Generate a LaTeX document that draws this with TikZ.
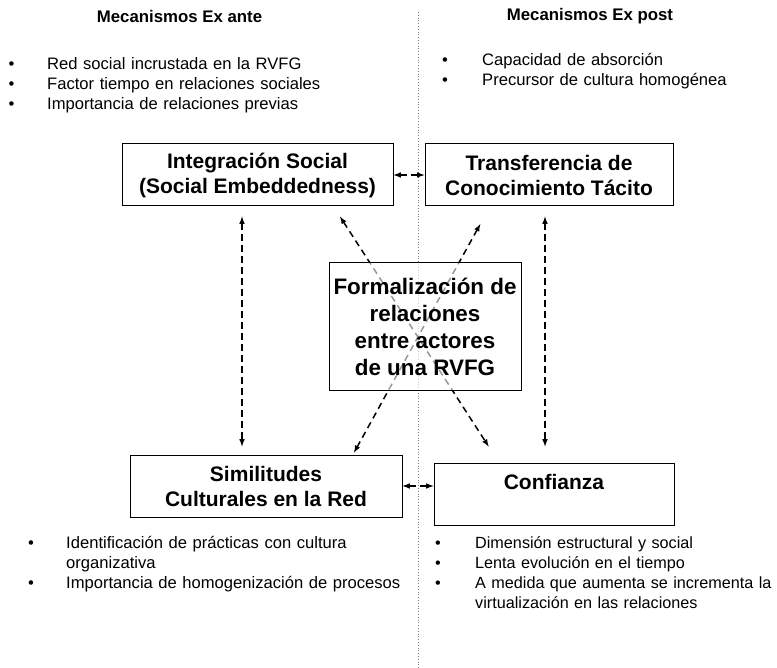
\documentclass[tikz,border=0pt]{standalone}
\usepackage{fontspec}
\setmainfont{Liberation Sans}
\usetikzlibrary{positioning}
\newcommand{\listfont}[2]{\fontsize{#1}{#2}\selectfont\lineskiplimit=-8pt\relax}

\begin{document}
\begin{tikzpicture}[x=1pt, y=-1pt,
  box/.style={draw, line width=1pt, minimum height=62pt, align=center, inner sep=0pt, font=\fontsize{21}{25}\selectfont\bfseries},
  link/.style={latex-latex, line width=1.5pt, dash pattern=on 6.5pt off 4.5pt},
  head/.style={font=\fontsize{16.8}{20}\selectfont\bfseries},
  lst/.style={anchor=base west, inner sep=0pt, text width=420pt, align=left, font=\listfont{16.6}{20}}]
\useasboundingbox (0,0) rectangle (777,668);

% headings
\node[head] (exante) at (179.5,16) {Mecanismos Ex ante};
\node[head] (expost) at (590,16) {Mecanismos Ex post};

% lists
\node[lst] (antelist) at (8.4,70) {\makebox[38.6pt][l]{•}Red social incrustada en la RVFG\\\makebox[38.6pt][l]{•}Factor tiempo en relaciones sociales\\\makebox[38.6pt][l]{•}Importancia de relaciones previas};
\node[lst] (postlist) at (442,66) {\makebox[40pt][l]{•}Capacidad de absorción\\\makebox[40pt][l]{•}Precursor de cultura homogénea};
\node[lst] (similarlist) at (28,548) {\makebox[38pt][l]{•}Identificación de prácticas con cultura\\\hspace*{38pt}organizativa\\\makebox[38pt][l]{•}Importancia de homogenización de procesos};
\node[lst, font=\listfont{16.2}{20}] (trustlist) at (435,548) {\makebox[40pt][l]{•}Dimensión estructural y social\\\makebox[40pt][l]{•}Lenta evolución en el tiempo\\\makebox[40pt][l]{•}A medida que aumenta se incrementa la\\\hspace*{40pt}virtualización en las relaciones};

% boxes
\node[box, minimum width=271pt] (social) at (257.5,175) {Integración Social\\(Social Embeddedness)};
\node[box, minimum width=248pt] (transfer) at (549,175) {Transferencia de\\Conocimiento Tácito};
\node[box, minimum width=272pt] (similar) at (266,486) {Similitudes\\Culturales en la Red};
\node[box, minimum width=240pt] (trust) at (554,494) {Confianza\\\mbox{}};

% divider
\coordinate (top) at (418,12);
\coordinate (bottom) at (418,668);
\draw[gray, dotted, line width=0.8pt] (top) -- (bottom);

% links
\draw[link] (social) -- (transfer);
\draw[link] (similar.east) -- (similar.east -| trust.west);
\draw[link, shorten <=10pt, shorten >=8pt] ([xshift=-15.5pt]social.south) -- ([xshift=-15.5pt]social.south |- similar.north);
\draw[link, shorten <=10pt, shorten >=16pt] ([xshift=-4pt]transfer.south) -- ([xshift=-4pt]transfer.south |- trust.north);
\draw[link, shorten <=12pt, shorten >=19pt] ([xshift=76pt]social.south) -- ([xshift=-55pt]trust.north);
\draw[link, shorten <=20pt, shorten >=2pt] ([xshift=-59pt]transfer.south) -- ([xshift=87pt]similar.north);

% centre
\node[box, minimum width=192pt, minimum height=128pt, fill=white, fill opacity=0.6, text opacity=1, font=\fontsize{22.4}{27}\selectfont\bfseries] (formal) at (425,327) {Formalización de\\relaciones\\entre actores\\de una RVFG};
\end{tikzpicture}
\end{document}
